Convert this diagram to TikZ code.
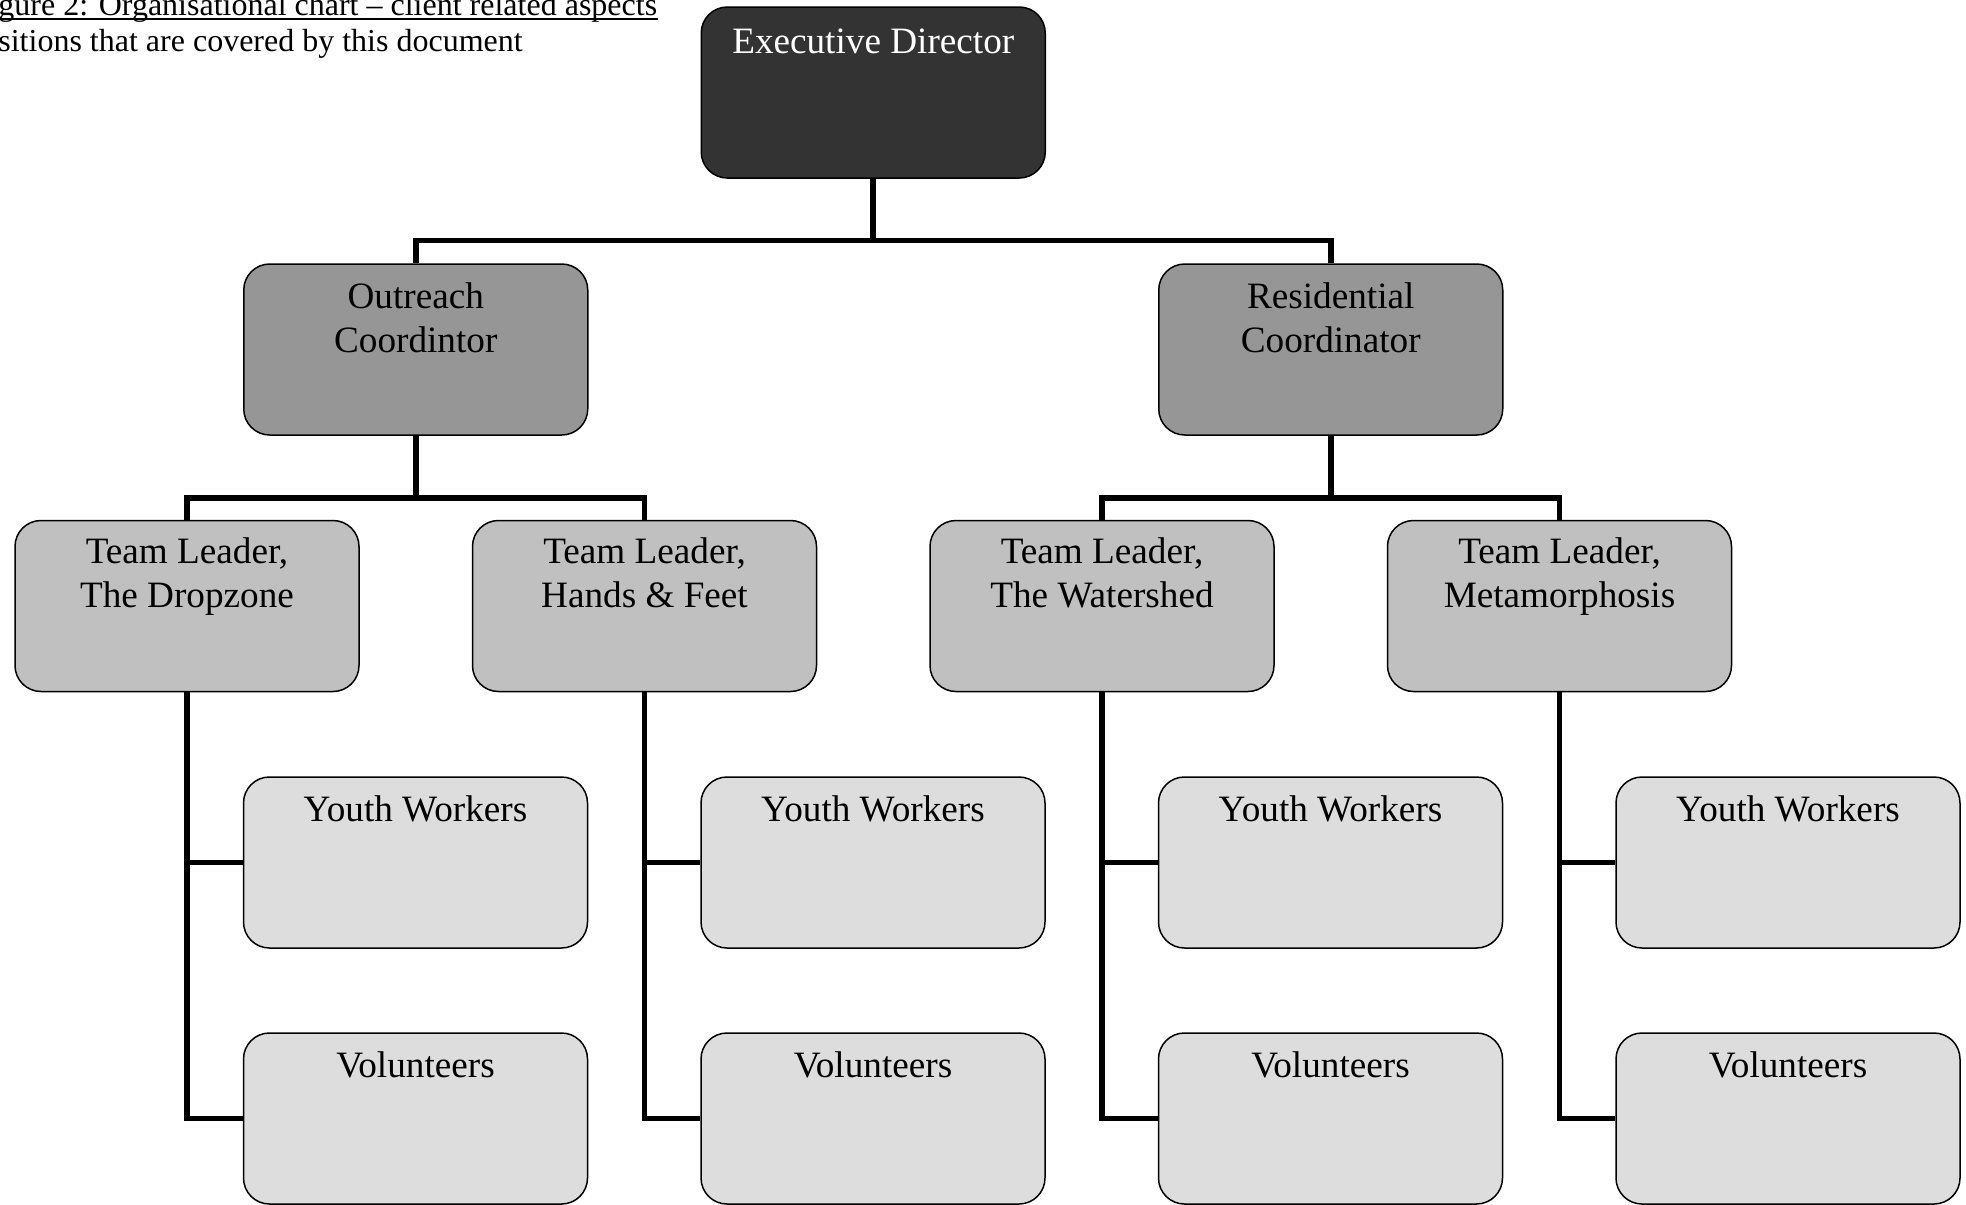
\documentclass[tikz,border=0pt]{standalone}
\usepackage{fontspec}
\setmainfont{Liberation Serif}
\usetikzlibrary{calc}
\definecolor{cexec}{HTML}{333333}
\definecolor{ccoord}{HTML}{969696}
\definecolor{clead}{HTML}{C0C0C0}
\definecolor{cstaff}{HTML}{DDDDDD}
\begin{document}
\begin{tikzpicture}[x=0.5pt,y=-0.5pt,
  box/.style={draw=black, line width=0.75pt, rounded corners=13pt,
    minimum width=172pt, minimum height=85.5pt, inner sep=0pt},
  execbox/.style={box, fill=cexec},
  coordbox/.style={box, fill=ccoord},
  leadbox/.style={box, fill=clead},
  staffbox/.style={box, fill=cstaff},
  lbl/.style={anchor=base, inner sep=0pt, align=center,
    font=\fontsize{18.6pt}{22pt}\selectfont},
  captxt/.style={anchor=base west, inner sep=0pt,
    font=\fontsize{16pt}{19pt}\selectfont},
  conn/.style={draw=black, line width=2.9pt, line join=miter}]
\useasboundingbox (0,0) rectangle (1966,1205);

% caption
\node[captxt] (cap1) at (-2,15) {gure 2: Organisational chart – client related aspects};
\node[captxt] (cap2) at (-2,51.5) {sitions that are covered by this document};
\draw[line width=1pt] ($(cap1.base west)+(0,4)$) -- ($(cap1.base east)+(0,4)$);

% boxes
\node[execbox] (ed) at (873.25,92.5) {};
\node[coordbox] (or) at (415.75,349.5) {};
\node[coordbox] (res) at (1330.75,349.5) {};
\node[leadbox] (tl1) at (187,606) {};
\node[leadbox] (tl2) at (644.5,606) {};
\node[leadbox] (tl3) at (1102,606) {};
\node[leadbox] (tl4) at (1559.5,606) {};
\node[staffbox] (yw1) at (415.5,862.5) {};
\node[staffbox] (yw2) at (873,862.5) {};
\node[staffbox] (yw3) at (1330.5,862.5) {};
\node[staffbox] (yw4) at (1788,862.5) {};
\node[staffbox] (vo1) at (415.5,1118.5) {};
\node[staffbox] (vo2) at (873,1118.5) {};
\node[staffbox] (vo3) at (1330.5,1118.5) {};
\node[staffbox] (vo4) at (1788,1118.5) {};

% labels (base anchor = baseline of the last line)
\node[lbl, text=white] (ed-t) at ($(ed.north)+(0,47)$) {Executive Director};
\node[lbl] (or-t) at ($(or.north)+(0,89)$) {Outreach\\Coordintor};
\node[lbl] (res-t) at ($(res.north)+(0,89)$) {Residential\\Coordinator};
\node[lbl] (tl1-t) at ($(tl1.north)+(0,88)$) {Team Leader,\\The Dropzone};
\node[lbl] (tl2-t) at ($(tl2.north)+(0,88)$) {Team Leader,\\Hands \& Feet};
\node[lbl] (tl3-t) at ($(tl3.north)+(0,88)$) {Team Leader,\\The Watershed};
\node[lbl] (tl4-t) at ($(tl4.north)+(0,88)$) {Team Leader,\\Metamorphosis};
\foreach \i in {1,2,3,4}{
  \node[lbl] (yw\i-t) at ($(yw\i.north)+(0,45)$) {Youth Workers};
  \node[lbl] (vo\i-t) at ($(vo\i.north)+(0,45)$) {Volunteers};
}

% connectors
\coordinate (j1) at (873.25,240.5);
\coordinate (j2) at (415.75,498);
\coordinate (j3) at (1330.75,498);
\draw[conn] (ed.south) -- (j1);
\draw[conn] (or.north) |- (j1) -| (res.north);
\draw[conn] (or.south) -- (j2);
\draw[conn] (tl1.north) |- (j2) -| (tl2.north);
\draw[conn] (res.south) -- (j3);
\draw[conn] (tl3.north) |- (j3) -| (tl4.north);
\foreach \i in {1,2,3,4}{
  \draw[conn] (tl\i.south) |- (yw\i.west);
  \draw[conn] (tl\i.south) |- (vo\i.west);
}
\end{tikzpicture}
\end{document}
